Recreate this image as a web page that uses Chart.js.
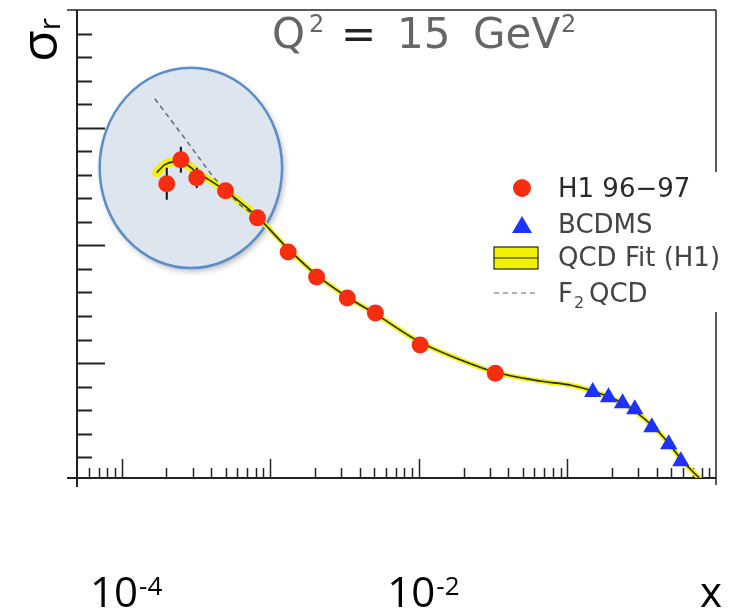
<!DOCTYPE html>
<html>
<head>
<meta charset="utf-8">
<script src="https://cdn.jsdelivr.net/npm/chart.js@4.4.0/dist/chart.umd.min.js"></script>
<style>
  html, body { margin: 0; padding: 0; background: #fff; }
</style>
</head>
<body>
<canvas id="sigmaChart" width="731" height="612"></canvas>
<script>
// H1 96-97 points
const h1X = [2.01e-4, 2.5e-4, 3.2e-4, 5.0e-4, 8.2e-4, 1.32e-3, 2.05e-3, 3.3e-3, 5.1e-3, 1.02e-2, 3.27e-2];
const h1Y = [1.262, 1.364, 1.287, 1.232, 1.117, 0.972, 0.866, 0.777, 0.713, 0.577, 0.457];
const h1Err = [0.068, 0.055, 0.043, 0.025, 0.02, 0.015, 0.01, 0.01, 0.01, 0.01, 0.01];

// BCDMS points
const bcdmsX = [0.148, 0.189, 0.235, 0.284, 0.370, 0.481, 0.58];
const bcdmsY = [0.377, 0.355, 0.330, 0.304, 0.228, 0.155, 0.083];

// QCD fit (H1)
const fitX = [1.72e-4, 1.95e-4, 2.24e-4, 2.67e-4, 3.2e-4, 5.0e-4, 8.2e-4, 1.32e-3, 2.05e-3, 3.3e-3, 5.1e-3, 1.02e-2, 1.92e-2, 3.27e-2, 6.7e-2, 0.106, 0.148, 0.235, 0.37, 0.48, 0.59, 0.77];
const fitY = [1.309, 1.343, 1.355, 1.347, 1.312, 1.232, 1.121, 0.985, 0.874, 0.781, 0.709, 0.589, 0.513, 0.461, 0.423, 0.406, 0.381, 0.330, 0.236, 0.160, 0.087, 0.012];

// F2 QCD (dashed)
const f2X = [1.67e-4, 2.67e-4, 4.12e-4, 6.27e-4, 8.2e-4];
const f2Y = [1.623, 1.453, 1.291, 1.172, 1.117];

// axes
const xRange = [5e-5, 1];
const yRange = [0.012, 2.0];
const yTickStep = 0.1;
const xLabelExps = ['-4', '-2'];

// highlight ring (data coords: x from..to, y from..to)
const ringX = [7.1e-5, 1.2e-3];
const ringY = [0.904, 1.755];

const pts = (xs, ys) => xs.map((v, i) => ({ x: v, y: ys[i] }));

function line(ctx, x1, y1, x2, y2) {
  ctx.beginPath();
  ctx.moveTo(x1, y1);
  ctx.lineTo(x2, y2);
  ctx.stroke();
}

const decor = {
  id: 'decor',
  beforeDatasetsDraw(chart) {
    const { ctx, chartArea: a, scales: { x, y } } = chart;
    // ring
    const l = x.getPixelForValue(ringX[0]), r = x.getPixelForValue(ringX[1]);
    const t = y.getPixelForValue(ringY[1]), b = y.getPixelForValue(ringY[0]);
    ctx.save();
    ctx.beginPath();
    ctx.ellipse((l + r) / 2, (t + b) / 2, (r - l) / 2, (b - t) / 2, 0, 0, Math.PI * 2);
    ctx.shadowColor = 'rgba(0,0,0,0.3)';
    ctx.shadowBlur = 6;
    ctx.shadowOffsetX = 2;
    ctx.shadowOffsetY = 3;
    ctx.fillStyle = '#dde5ef';
    ctx.fill();
    ctx.shadowColor = 'transparent';
    ctx.lineWidth = 2.5;
    ctx.strokeStyle = '#5b8dcb';
    ctx.stroke();
    ctx.restore();

    // frame and ticks
    ctx.save();
    ctx.strokeStyle = '#222';
    ctx.lineWidth = 2;
    line(ctx, a.left, a.top, a.left, a.bottom + 9);
    line(ctx, a.left - 10, a.bottom, a.right, a.bottom);
    ctx.lineWidth = 1.5;
    line(ctx, a.left - 10, a.top, a.right, a.top);
    line(ctx, a.right, a.top, a.right, a.bottom + 7);
    ctx.lineWidth = 2;
    for (let v = yTickStep; v < yRange[1] - 0.01; v += yTickStep) {
      const py = Math.round(y.getPixelForValue(v)) + 0.5;
      const major = Math.abs(v * 2 - Math.round(v * 2)) < 1e-6;
      line(ctx, a.left, py, a.left + (major ? 28 : 15), py);
    }
    ctx.lineWidth = 1.5;
    for (let d = -5; d <= 0; d++) {
      for (let m = 1; m <= 9; m++) {
        const v = m * Math.pow(10, d);
        if (v <= xRange[0] || v >= xRange[1]) continue;
        const px = Math.round(x.getPixelForValue(v)) + 0.5;
        line(ctx, px, a.bottom, px, a.bottom - (m === 1 ? 19 : 10));
      }
    }
    ctx.restore();
  },
  beforeDatasetDraw(chart, args) {
    if (args.index !== 0) return;
    const { ctx, scales: { x, y } } = chart;
    ctx.save();
    ctx.strokeStyle = '#111';
    ctx.lineWidth = 2;
    h1X.forEach((v, i) => {
      const px = x.getPixelForValue(v);
      line(ctx, px, y.getPixelForValue(h1Y[i] + h1Err[i]), px, y.getPixelForValue(h1Y[i] - h1Err[i]));
    });
    ctx.restore();
  },
  afterDraw(chart) {
    const { ctx, scales: { x } } = chart;
    ctx.save();

    // title
    ctx.fillStyle = '#666';
    ctx.textBaseline = 'alphabetic';
    ctx.font = '42px "DejaVu Sans"';
    ctx.fillText('Q', 272, 48);
    ctx.fillStyle = '#222';
    ctx.fillText('=', 341, 48);
    ctx.fillStyle = '#666';
    ctx.fillText('15', 397, 48);
    ctx.fillText('GeV', 473, 48);
    ctx.font = '24px "DejaVu Sans"';
    ctx.fillText('2', 309, 32);
    ctx.fillText('2', 561, 32);

    // legend
    ctx.fillStyle = '#fff';
    ctx.fillRect(488, 172, 243, 140);
    ctx.fillStyle = '#f62d0e';
    ctx.beginPath();
    ctx.arc(522, 188, 9, 0, Math.PI * 2);
    ctx.fill();
    ctx.fillStyle = '#1e32ff';
    ctx.beginPath();
    ctx.moveTo(522, 216);
    ctx.lineTo(532, 233);
    ctx.lineTo(512, 233);
    ctx.closePath();
    ctx.fill();
    ctx.fillStyle = '#f2f200';
    ctx.fillRect(494, 247, 44, 22);
    ctx.strokeStyle = '#222';
    ctx.lineWidth = 1.2;
    ctx.strokeRect(494, 247, 44, 22);
    line(ctx, 494, 258, 538, 258);
    ctx.strokeStyle = '#666';
    ctx.setLineDash([5, 4]);
    line(ctx, 494, 293, 538, 293);
    ctx.setLineDash([]);

    ctx.fillStyle = '#2a2a2a';
    ctx.font = '26px "DejaVu Sans"';
    ctx.fillText('H1 96\u221297', 558, 197);
    ctx.fillStyle = '#444';
    ctx.fillText('BCDMS', 558, 233);
    ctx.fillText('QCD Fit (H1)', 558, 266);
    ctx.fillText('F', 558, 302);
    const fw = ctx.measureText('F').width;
    ctx.fillText('QCD', 558 + fw + 16, 302);
    ctx.font = '16px "DejaVu Sans"';
    ctx.fillText('2', 558 + fw + 1, 308);

    // x labels
    ctx.fillStyle = '#000';
    xLabelExps.forEach(e => {
      const px = x.getPixelForValue(Math.pow(10, Number(e)));
      ctx.font = '42px "Open Sans"';
      const w1 = ctx.measureText('10').width;
      ctx.font = '26px "Open Sans"';
      const w2 = ctx.measureText(e).width;
      const start = px - (w1 + w2) / 2 + 4;
      ctx.font = '42px "Open Sans"';
      ctx.fillText('10', start, 607);
      ctx.font = '26px "Open Sans"';
      ctx.fillText(e, start + w1 + 1, 595);
    });
    ctx.font = '42px "Open Sans"';
    ctx.fillText('x', 700, 607);

    // y title
    ctx.translate(57, 62);
    ctx.rotate(-Math.PI / 2);
    ctx.font = '52px "Open Sans"';
    ctx.fillText('\u03c3', 0, 0);
    const sw = ctx.measureText('\u03c3').width;
    ctx.font = '30px "Open Sans"';
    ctx.fillText('r', sw, 3);
    ctx.restore();
  }
};

const ctx = document.getElementById('sigmaChart').getContext('2d');
const sigmaChart = new Chart(ctx, {
  type: 'scatter',
  data: {
    datasets: [
      {
        label: 'H1 96-97',
        data: pts(h1X, h1Y),
        pointStyle: 'circle',
        pointRadius: 8.5,
        pointBackgroundColor: '#f62d0e',
        pointBorderWidth: 0
      },
      {
        label: 'BCDMS',
        data: pts(bcdmsX, bcdmsY),
        pointStyle: 'triangle',
        pointRadius: 10,
        pointBackgroundColor: '#1e32ff',
        pointBorderWidth: 0
      },
      {
        label: 'QCD Fit (H1)',
        data: pts(fitX, fitY),
        showLine: true,
        pointRadius: 0,
        borderColor: '#2a2a2a',
        borderWidth: 1.6,
        cubicInterpolationMode: 'monotone'
      },
      {
        label: 'F2 QCD',
        data: pts(f2X, f2Y),
        showLine: true,
        pointRadius: 0,
        borderColor: '#666',
        borderWidth: 1.5,
        borderDash: [5, 4]
      },
      {
        label: 'band',
        data: pts(fitX, fitY),
        showLine: true,
        pointRadius: 0,
        borderColor: '#f2f200',
        borderWidth: 5,
        borderCapStyle: 'round',
        cubicInterpolationMode: 'monotone',
        segment: {
          borderWidth: c => c.p1DataIndex <= 4 ? 9 : (c.p1DataIndex <= 6 ? 7 : 5)
        }
      }
    ]
  },
  options: {
    responsive: false,
    animation: false,
    devicePixelRatio: 1,
    layout: { padding: { left: 77, top: 10, right: 15, bottom: 134 } },
    plugins: { legend: { display: false }, tooltip: { enabled: false } },
    scales: {
      x: { type: 'logarithmic', min: xRange[0], max: xRange[1], display: false },
      y: { type: 'linear', min: yRange[0], max: yRange[1], display: false }
    }
  },
  plugins: [decor]
});
</script>
</body>
</html>
